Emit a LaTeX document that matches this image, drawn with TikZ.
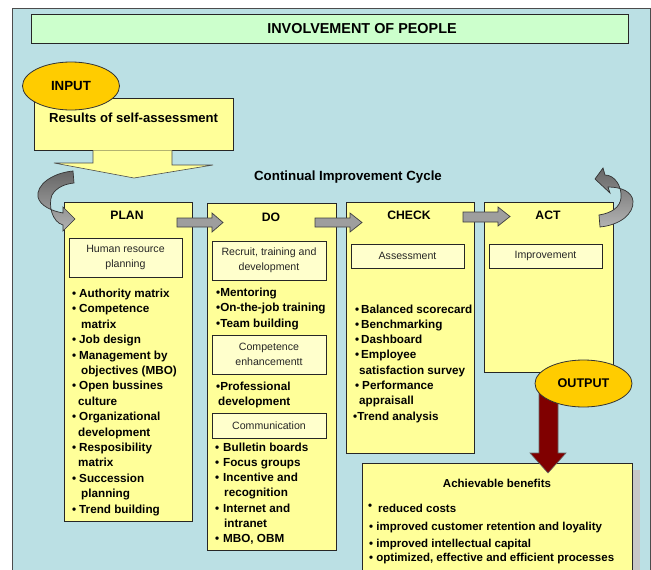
\documentclass[tikz,border=0pt]{standalone}
\usepackage{fontspec}
\setmainfont{Liberation Sans}
\usetikzlibrary{calc,fit,shapes.geometric}
\definecolor{bgblue}{RGB}{187,224,228}
\definecolor{ttlgreen}{RGB}{204,255,204}
\definecolor{boxyellow}{RGB}{255,255,153}
\definecolor{lblyellow}{RGB}{255,255,204}
\definecolor{gold}{RGB}{255,204,0}
\definecolor{arrgray}{RGB}{158,158,158}
\definecolor{darkred}{RGB}{128,0,0}
\newcommand\bu{\makebox[7pt][l]{\textbullet}}
\newcommand\bw[1]{\makebox[#1][l]{\textbullet}}
\begin{document}
\begin{tikzpicture}[x=1pt,y=-1pt,
  frame/.style={draw=black!70, line width=0.8pt, fill=bgblue},
  phase/.style={draw=black!85, line width=0.8pt, fill=boxyellow, inner sep=0pt},
  lblbox/.style={draw=black!85, line width=0.8pt, fill=lblyellow, inner sep=0pt},
  lbltext/.style={font=\fontsize{10.6}{14.5}\selectfont, align=center, inner sep=0pt, text=black!85},
  ttl/.style={font=\fontsize{12.2}{14}\selectfont\bfseries, inner sep=0pt},
  list/.style={font=\fontsize{11.7}{15.4}\selectfont\bfseries, align=left, inner sep=0pt, anchor=base west},
  blist/.style={font=\fontsize{11.5}{15.4}\selectfont\bfseries, inner sep=0pt, anchor=base west},
  oval/.style={ellipse, draw=black!80, line width=0.8pt, fill=gold, inner sep=0pt},
  grayarrow/.style={fill=arrgray, draw=black!75, line width=0.7pt},
  curvearrow/.style={top color=black!60, bottom color=black!30, draw=black!80, line width=0.7pt},
]
\useasboundingbox (0,0) rectangle (651,570);
% background frame
\path[frame] (12,8) rectangle (650,600);
% title
\node[draw=black!85, line width=0.8pt, fill=ttlgreen, inner sep=0pt, fit={(31,14)(628,43)}] (title) {};
\node[font=\fontsize{14.4}{16}\selectfont\bfseries, inner sep=0pt] (titletext) at (362,29) {INVOLVEMENT OF PEOPLE};
% input
\node[phase, fit={(34,98)(233,150)}] (results) {};
\node[font=\fontsize{13.1}{15}\selectfont\bfseries, inner sep=0pt, anchor=base west] (resultstext) at (49,122) {Results of self-assessment};
\path[fill=boxyellow, draw=black!70, line width=0.6pt] (results.south -| 93,0) -- (93,163) -- (54,163) -- (134,178) -- (213,165) -- (172,165) -- (results.south -| 172,0);
\node[oval, minimum width=97, minimum height=48] (input) at (71,86) {};
\node[font=\fontsize{13.3}{15}\selectfont\bfseries, inner sep=0pt] at (input.center) {INPUT};
\node[font=\fontsize{13.3}{15}\selectfont\bfseries, inner sep=0pt] (cycle) at (348,177) {Continual Improvement Cycle};
% phase boxes
\node[phase, fit={(64,202)(192,521)}] (plan) {};
\node[phase, fit={(207,203)(336,550)}] (do) {};
\node[phase, fit={(346,202)(474,453)}] (check) {};
\node[phase, fit={(484,202)(613,372)}] (act) {};
\node[ttl] (plant) at (127,215) {PLAN};
\node[ttl] (dot) at (271,217) {DO};
\node[ttl] (checkt) at (409,215) {CHECK};
\node[ttl] (actt) at (548,215) {ACT};
% label boxes
\node[lblbox, fit={(69,238)(182,277)}] (hr) {};
\node[lbltext] at (hr.center) {Human resource\\planning};
\node[lblbox, fit={(212,241)(326,280)}] (recruit) {};
\node[lbltext] at (recruit.center) {Recruit, training and\\development};
\node[lblbox, fit={(212,335)(326,374)}] (comp) {};
\node[lbltext] at (comp.center) {Competence\\enhancementt};
\node[lblbox, fit={(212,413)(326,438)}] (comm) {};
\node[lbltext] at (comm.center) {Communication};
\node[lblbox, fit={(351,244)(464,268)}] (assess) {};
\node[lbltext] at (assess.center) {Assessment};
\node[lblbox, fit={(489,244)(602,268)}] (improve) {};
\node[lbltext] at (improve.center) {Improvement};
% lists (base anchor = baseline of last line)
\node[list] (planlist) at (72,513) {\bu Authority matrix\\
\bu Competence\\
\hspace{9pt}matrix\\
\bu Job design\\
\bu Management by\\
\hspace{9pt}objectives (MBO)\\
\bu Open bussines\\
\hspace{6pt}culture\\
\bu Organizational\\
\hspace{6pt}development\\
\bu Resposibility\\
\hspace{6pt}matrix\\
\bu Succession\\
\hspace{9pt}planning\\
\bu Trend building};
\node[list] (dolist1) at (216,327) {\textbullet Mentoring\\
\textbullet On-the-job training\\
\textbullet Team building};
\node[list] (dolist2) at (216,405.4) {\textbullet Professional\\
\hspace{2pt}development};
\node[list, font=\fontsize{11.7}{15.3}\selectfont\bfseries] (dolist3) at (215,542.8) {\bw{8pt}Bulletin boards\\
\bw{8pt}Focus groups\\
\bw{8pt}Incentive and\\
\hspace{9pt}recognition\\
\bw{8pt}Internet and\\
\hspace{9pt}intranet\\
\bw{8pt}MBO, OBM};
\node[list, font=\fontsize{11.7}{15.3}\selectfont\bfseries] (checklist) at (355,420.1) {\bw{6pt}Balanced scorecard\\
\bw{6pt}Benchmarking\\
\bw{6pt}Dashboard\\
\bw{6pt}Employee\\
\hspace{4pt}satisfaction survey\\
\bw{7pt}Performance\\
\hspace{4pt}appraisall\\
\hspace{-2pt}\textbullet Trend analysis};
% straight gray arrows
\path[grayarrow] (177,218) -- (212,218) -- (212,213) -- (223,222.5) -- (212,232) -- (212,227) -- (177,227) -- cycle;
\path[grayarrow] (315,218) -- (350,218) -- (350,213) -- (362,222.5) -- (350,232) -- (350,227) -- (315,227) -- cycle;
\path[grayarrow] (463,212) -- (498,212) -- (498,207) -- (510,216.5) -- (498,226) -- (498,222) -- (463,222) -- cycle;
% curved arrows
\path[curvearrow] (73,171) .. controls (52,173) and (36,185) .. (38,197) .. controls (40,206) and (52,211) .. (63,213)
  -- (63,207) -- (75,219) -- (63,231) -- (63,225)
  .. controls (52,222) and (48,205) .. (52,195) .. controls (57,187) and (65,184) .. (74,183) -- cycle;
\path[curvearrow] (599,215) -- (600,227) .. controls (620,225) and (634,214) .. (633,201) .. controls (632,192) and (622,187) .. (608,187)
  -- (610,193) -- (595,179) -- (603,168) -- (605,175)
  .. controls (614,175) and (622,185) .. (621,198) .. controls (620,207) and (612,213) .. (599,215) -- cycle;
% benefits
\fill[black!22] (369,470) rectangle (640,580);
\node[phase, fit={(362,463)(632,590)}] (benefits) {};
\node[font=\fontsize{11.5}{14}\selectfont\bfseries, inner sep=0pt] (bentitle) at (497,483) {Achievable benefits};
\node[blist] (b0) at (368,509) {\textbullet};
\node[blist] (b1) at (378,512) {reduced costs};
\node[blist] (b2) at (369,530) {\textbullet\ improved customer retention and loyality};
\node[blist] (b3) at (369,547) {\textbullet\ improved intellectual capital};
\node[blist] (b4) at (369,561) {\textbullet\ optimized, effective and efficient processes};
% output
\path[fill=darkred, draw=black!60, line width=0.6pt] (539,390) -- (539,453) -- (530,453) -- (548,473) -- (566,453) -- (558,453) -- (558,390) -- cycle;
\node[oval, minimum width=97, minimum height=47] (output) at (583.5,383.5) {};
\node[font=\fontsize{12.6}{15}\selectfont\bfseries, inner sep=0pt] at (output.center) {OUTPUT};
\end{tikzpicture}
\end{document}
